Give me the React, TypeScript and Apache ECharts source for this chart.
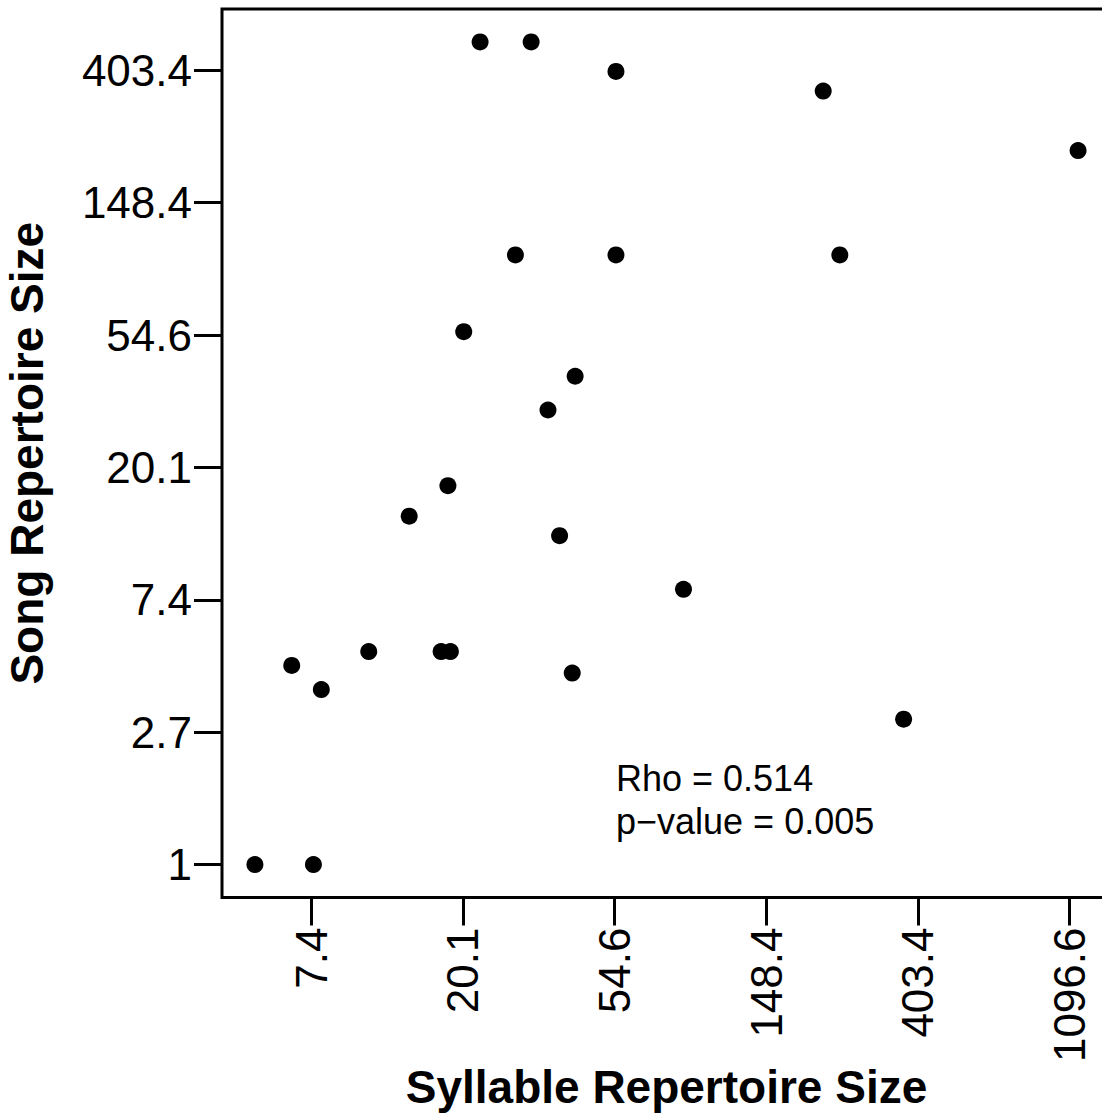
import React, { useEffect, useRef } from "react";
import * as echarts from "echarts";

// Syllable repertoire size (x) and song repertoire size (y)
const syllableSize = [5.1, 7.5, 6.5, 7.9, 10.8, 17.4, 18.5, 14.1, 18.2, 20.2, 22.5, 31.5, 28.4, 35.2, 42.1, 38.0, 41.3, 55.1, 55.1, 86.0, 216, 241, 1159, 367];
const songSize = [1, 1, 4.5, 3.75, 5, 5, 5, 13.9, 17.5, 56, 500, 500, 100, 31, 40, 12, 4.25, 400, 100, 8, 345, 100, 220, 3];

// tick positions as powers of e
const xTickPowers = [2, 3, 4, 5, 6, 7];
const yTickPowers = [0, 1, 2, 3, 4, 5, 6];

const annotation = ["Rho = 0.514", "p\u2212value = 0.005"];

const FONT = "'Liberation Sans', Arial, Helvetica, sans-serif";

function expandedRange(vals: number[]) {
  const mn = Math.min(...vals);
  const mx = Math.max(...vals);
  const pad = (mx - mn) * 0.04;
  return [mn - pad, mx + pad];
}

function fmt(v: number) {
  return String(Number(Math.exp(v).toFixed(1)));
}

export default function App() {
  const ref = useRef<HTMLDivElement>(null);
  useEffect(() => {
    if (!ref.current) return;
    const chart = echarts.init(ref.current, null, { renderer: "svg" });
    const lx = syllableSize.map(Math.log);
    const ly = songSize.map(Math.log);
    const [xmin, xmax] = expandedRange(lx);
    const [ymin, ymax] = expandedRange(ly);
    const data = lx.map((v, i) => [v, ly[i]]);
    chart.setOption({
      animation: false,
      backgroundColor: "#ffffff",
      grid: {
        left: 222,
        top: 9,
        width: 889,
        height: 888.5,
        show: true,
        borderColor: "#000",
        borderWidth: 3,
        backgroundColor: "transparent",
        containLabel: false,
        outerBoundsMode: "none",
      },
      xAxis: {
        type: "value",
        min: xmin,
        max: xmax,
        axisLine: { show: false, onZero: false },
        splitLine: { show: false },
        axisTick: {
          show: true,
          inside: false,
          customValues: xTickPowers,
          length: 28,
          lineStyle: { color: "#000", width: 3 },
        },
        axisLabel: {
          show: true,
          customValues: xTickPowers,
          rotate: 90,
          margin: 30,
          color: "#000",
          fontSize: 44,
          fontFamily: FONT,
          formatter: (v: number) => fmt(v),
        },
        name: "Syllable Repertoire Size",
        nameLocation: "middle",
        nameGap: 166,
        nameMoveOverlap: false,
        nameTextStyle: { color: "#000", fontSize: 46, lineHeight: 46, fontWeight: "bold", fontFamily: FONT },
      },
      yAxis: {
        type: "value",
        min: ymin,
        max: ymax,
        axisLine: { show: false, onZero: false },
        splitLine: { show: false },
        axisTick: {
          show: true,
          inside: false,
          customValues: yTickPowers,
          length: 28,
          lineStyle: { color: "#000", width: 3 },
        },
        axisLabel: {
          show: true,
          customValues: yTickPowers,
          margin: 30,
          color: "#000",
          fontSize: 44,
          fontFamily: FONT,
          formatter: (v: number) => fmt(v),
        },
        name: "Song Repertoire Size",
        nameLocation: "middle",
        nameGap: 172,
        nameMoveOverlap: false,
        nameTextStyle: { color: "#000", fontSize: 46, fontWeight: "bold", fontFamily: FONT },
      },
      series: [
        {
          type: "scatter",
          data,
          symbol: "circle",
          symbolSize: 17,
          itemStyle: { color: "#000", opacity: 1 },
        },
      ],
      graphic: annotation.map((t, i) => ({
        type: "text",
        left: 616,
        top: 760 + i * 43,
        style: { text: t, fill: "#000", fontSize: 36, fontFamily: FONT },
      })),
    });
    return () => chart.dispose();
  }, []);
  return (
    <div
      ref={ref}
      style={{ position: "absolute", left: 0, top: 0, width: 1102, height: 1117 }}
    />
  );
}
